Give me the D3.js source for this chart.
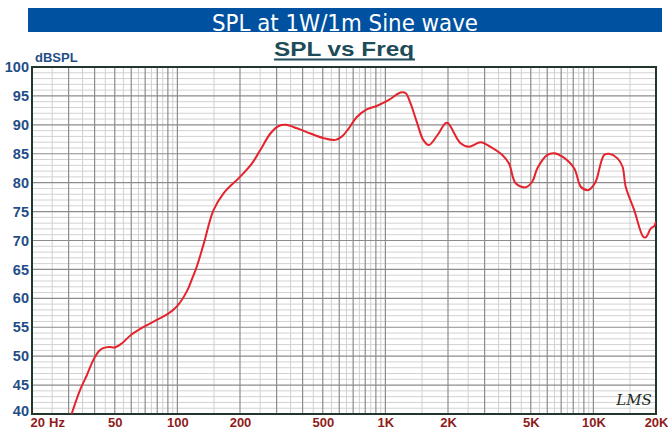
<!DOCTYPE html>
<html>
<head>
<meta charset="utf-8">
<script src="https://cdn.jsdelivr.net/npm/d3@7"></script>
<style>
    body { margin: 0; background: #fff; }
    svg { display: block; }
</style>
</head>
<body>
<svg id="chart" width="668" height="431"></svg>
<script>
/* data */
const freqs = [31, 34, 36.7, 38.8, 40.2, 42, 44, 47, 50, 54, 60, 70, 80, 90, 100, 111, 118, 124, 134, 149,
    167, 200, 228, 250, 280, 307, 332, 376, 436, 505, 575, 619, 667, 731, 818, 913, 1040, 1183, 1250,
    1321, 1422, 1520, 1618, 1777, 1946, 2000, 2300, 2520, 2870, 3200, 3650, 3930, 4230, 4730, 5090,
    5380, 6010, 6470, 7100, 8080, 8700, 9380, 9720, 10270, 11260, 11900, 13060, 13800, 14300, 15700,
    17400, 17900, 18900, 19600, 20000];
const spl = [40.0, 44.1, 46.7, 48.8, 49.9, 50.9, 51.4, 51.6, 51.5, 52.2, 53.7, 55.2, 56.3, 57.3, 58.7, 61.2,
    63.5, 65.5, 69.5, 75.2, 78.2, 81.0, 83.3, 85.6, 88.5, 89.8, 90.0, 89.4, 88.5, 87.7, 87.4, 88.0, 89.4,
    91.4, 92.7, 93.3, 94.3, 95.6, 95.5, 93.7, 90.3, 87.4, 86.5, 88.2, 90.3, 90.3, 86.8, 86.2, 87.0, 86.2,
    84.8, 83.3, 79.9, 79.2, 80.2, 82.5, 84.8, 85.1, 84.5, 82.5, 79.3, 78.7, 79.0, 80.2, 84.8, 85.0, 84.2,
    82.8, 79.3, 75.3, 70.6, 70.6, 72.1, 72.5, 73.3];
const yTicks = [40, 45, 50, 55, 60, 65, 70, 75, 80, 85, 90, 95, 100];
const xTicks = [20, 50, 100, 200, 500, 1000, 2000, 5000, 10000, 20000];
const xLabels = ['20', '50', '100', '200', '500', '1K', '2K', '5K', '10K', '20K'];

const plot = {left: 32, right: 656, top: 67, bottom: 414};
const svg = d3.select('#chart');

let x = d3.scaleLog().domain([20, 20000]).range([plot.left, plot.right]);
let y = d3.scaleLinear().domain([40, 100]).range([plot.bottom, plot.top]);

// banner
svg.append('clipPath').attr('id', 'bannerClip')
    .append('rect').attr('x', 28).attr('y', 8).attr('width', 634).attr('height', 24);
svg.append('rect').attr('x', 28).attr('y', 8).attr('width', 634).attr('height', 24).attr('fill', '#0052a0');
svg.append('text').attr('x', 345).attr('y', 31).attr('text-anchor', 'middle')
    .attr('clip-path', 'url(#bannerClip)')
    .attr('fill', '#fff').style('font', '23px "DejaVu Sans Condensed", "Liberation Sans Narrow", sans-serif')
    .attr('textLength', 266).attr('lengthAdjust', 'spacingAndGlyphs')
    .text('SPL at 1W/1m Sine wave');

// sub title
svg.append('text').attr('x', 344).attr('y', 56).attr('text-anchor', 'middle')
    .attr('fill', '#1d4b58').style('font', 'bold 21px "Liberation Sans", Arial, sans-serif')
    .attr('textLength', 140).attr('lengthAdjust', 'spacingAndGlyphs')
    .text('SPL vs Freq');
svg.append('line').attr('x1', 274).attr('x2', 415).attr('y1', 59.5).attr('y2', 59.5)
    .attr('stroke', '#1d4b58').attr('stroke-width', 2);

svg.append('text').attr('x', 35).attr('y', 62).attr('fill', '#1f4e86')
    .style('font', 'bold 13px "Liberation Sans", Arial, sans-serif').text('dBSPL');

// grid
let grid = svg.append('g').attr('class', 'grid');
let minorY = d3.range(40, 101, 1).filter(d => d % 5 !== 0);
grid.selectAll('line.hminor').data(minorY).enter().append('line').attr('class', 'hminor')
    .attr('x1', plot.left).attr('x2', plot.right).attr('y1', d => y(d)).attr('y2', d => y(d))
    .attr('stroke', '#d2d2d2').attr('stroke-width', 1);

let majorX = [], minorX = [];
[10, 100, 1000, 10000].forEach(dec => {
    for (let m = 1; m < 10; m++) {
        let f = dec * m;
        if (f > 20 && f < 20000) majorX.push(f);
        let h = dec * (m + 0.5);
        if (h > 20 && h < 20000) minorX.push(h);
    }
});
grid.selectAll('line.vminor').data(minorX).enter().append('line').attr('class', 'vminor')
    .attr('x1', d => x(d)).attr('x2', d => x(d)).attr('y1', plot.top).attr('y2', plot.bottom)
    .attr('stroke', '#d0d0d0').attr('stroke-width', 1);
grid.selectAll('line.hmajor').data(yTicks).enter().append('line').attr('class', 'hmajor')
    .attr('x1', plot.left).attr('x2', plot.right).attr('y1', d => y(d)).attr('y2', d => y(d))
    .attr('stroke', '#8c8c8c').attr('stroke-width', 1.2);
grid.selectAll('line.vmajor').data(majorX).enter().append('line').attr('class', 'vmajor')
    .attr('x1', d => x(d)).attr('x2', d => x(d)).attr('y1', plot.top).attr('y2', plot.bottom)
    .attr('stroke', '#8c8c8c').attr('stroke-width', 1.2);

// frame
svg.append('rect').attr('x', plot.left).attr('y', plot.top)
    .attr('width', plot.right - plot.left).attr('height', plot.bottom - plot.top)
    .attr('fill', 'none').attr('stroke', '#22362c').attr('stroke-width', 2);

// axes
let yAxis = svg.append('g').attr('transform', 'translate(' + (plot.left - 3) + ',0)')
    .call(d3.axisLeft(y).tickValues(yTicks).tickSize(0).tickPadding(0));
yAxis.select('.domain').remove();
yAxis.selectAll('text').attr('fill', '#1f4e86')
    .style('font', 'bold 14.5px "Liberation Sans", Arial, sans-serif');
// 40 sits just above the "20" label
yAxis.selectAll('.tick').filter(d => d === 40).select('text').attr('dy', '0.1em');

let xAxis = svg.append('g').attr('transform', 'translate(0,' + plot.bottom + ')')
    .call(d3.axisBottom(x).tickValues(xTicks).tickSize(0).tickPadding(4)
        .tickFormat((d, i) => xLabels[i]));
xAxis.select('.domain').remove();
xAxis.selectAll('text').attr('fill', '#8e1c1c')
    .style('font', 'bold 13px "Liberation Sans", Arial, sans-serif');
xAxis.selectAll('.tick').filter(d => d === 20).select('text').attr('text-anchor', 'start').attr('dx', -2);
xAxis.selectAll('.tick').filter(d => d === 20000).select('text').attr('text-anchor', 'end').attr('dx', 12);
svg.append('text').attr('x', 57).attr('y', 427).attr('text-anchor', 'middle').attr('fill', '#8e1c1c')
    .style('font', 'bold 13px "Liberation Sans", Arial, sans-serif').text('Hz');

// curve
svg.append('clipPath').attr('id', 'plotClip')
    .append('rect').attr('x', plot.left).attr('y', plot.top)
    .attr('width', plot.right - plot.left).attr('height', plot.bottom - plot.top);
let line = d3.line().x(d => x(d[0])).y(d => y(d[1])).curve(d3.curveCatmullRom.alpha(0.5));
svg.append('path').datum(freqs.map((f, i) => [f, spl[i]]))
    .attr('clip-path', 'url(#plotClip)')
    .attr('d', line).attr('fill', 'none').attr('stroke', '#e5232d').attr('stroke-width', 2);

// signature
svg.append('text').attr('x', 634).attr('y', 405).attr('text-anchor', 'middle').attr('fill', '#1e2d24')
    .style('font', 'italic 15px "DejaVu Serif", serif').text('LMS');
</script>
</body>
</html>
